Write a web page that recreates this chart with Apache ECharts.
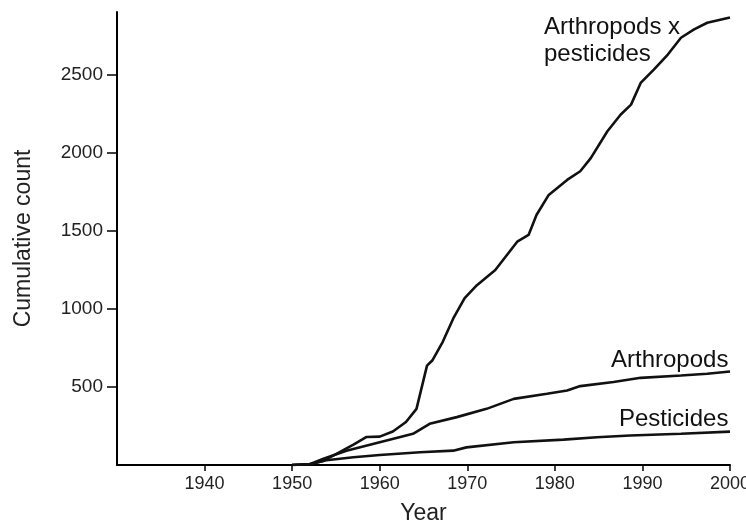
<!DOCTYPE html>
<html>
<head>
<meta charset="utf-8">
<script src="https://cdn.jsdelivr.net/npm/echarts@6/dist/echarts.min.js"></script>
<style>
  html, body { margin: 0; padding: 0; background: #fff; }
  #chart { width: 746px; height: 524px; }
</style>
</head>
<body>
<div id="chart"></div>
<script>
// Arthropods x pesticides (cumulative count)
var comboYears  = [1950, 1952, 1953.5, 1955, 1957, 1958.5, 1960, 1961.5, 1963, 1964.2, 1965.4, 1966, 1967.2, 1968.4, 1969.7, 1971.1, 1973.2, 1975.7, 1977, 1977.9, 1979.3, 1981.4, 1982.9, 1984.1, 1986, 1987.5, 1988.7, 1989.8, 1991.3, 1992.9, 1994.4, 1995.9, 1997.4, 2000];
var comboCounts = [0, 5, 25, 70, 130, 180, 182, 215, 276, 360, 637, 670, 790, 940, 1070, 1153, 1250, 1432, 1475, 1603, 1732, 1828, 1884, 1968, 2140, 2246, 2311, 2450, 2536, 2632, 2740, 2793, 2836, 2870];

// Arthropods
var arthYears  = [1950, 1952, 1953.5, 1956.2, 1960, 1963.8, 1965.7, 1968.8, 1972.2, 1975.3, 1979.1, 1981.4, 1982.9, 1986.7, 1989.8, 1994.4, 1997.4, 2000];
var arthCounts = [0, 5, 38, 92, 146, 200, 264, 307, 360, 424, 457, 478, 506, 532, 559, 574, 585, 600];

// Pesticides
var pestYears  = [1950, 1952, 1953.9, 1957, 1960, 1964.6, 1968.4, 1969.9, 1975.3, 1981, 1984.8, 1988.6, 1994.4, 2000];
var pestCounts = [0, 5, 30, 50, 64, 82, 92, 113, 146, 163, 178, 189, 200, 214];

var xTicks = [1940, 1950, 1960, 1970, 1980, 1990, 2000];
var yTicks = [500, 1000, 1500, 2000, 2500];

function pairs(xs, ys) {
  return xs.map(function (x, i) { return [x, ys[i]]; });
}

var chart = echarts.init(document.getElementById('chart'));

var font = 'Liberation Sans, Arial, sans-serif';
var lineBase = {
  type: 'line',
  smooth: false,
  symbol: 'none',
  lineStyle: { color: '#111', width: 2.6 }
};

chart.setOption({
  animation: false,
  backgroundColor: '#fff',
  textStyle: { fontFamily: font },
  grid: { left: 117, right: 16, top: 12, bottom: 59, containLabel: false, outerBoundsMode: 'none' },
  xAxis: {
    type: 'value',
    min: 1930,
    max: 2000,
    interval: 10,
    name: 'Year',
    nameLocation: 'middle',
    nameGap: 37,
    nameTextStyle: { fontSize: 23, color: '#222' },
    axisLine: { lineStyle: { color: '#000', width: 2 } },
    axisTick: { length: 6, customValues: xTicks, lineStyle: { color: '#000', width: 1.5 } },
    axisLabel: {
      fontSize: 18,
      color: '#222',
      margin: 10,
      customValues: xTicks,
      formatter: function (v) { return String(v); }
    },
    splitLine: { show: false }
  },
  yAxis: {
    type: 'value',
    min: 0,
    max: 2905,
    interval: 500,
    name: 'Cumulative count',
    nameLocation: 'middle',
    nameGap: 82,
    nameTextStyle: { fontSize: 23, color: '#222' },
    axisLine: { show: true, lineStyle: { color: '#000', width: 2 } },
    axisTick: { length: 10, customValues: yTicks, lineStyle: { color: '#000', width: 1.5 } },
    axisLabel: {
      fontSize: 19,
      color: '#222',
      margin: 14,
      customValues: yTicks,
      formatter: function (v) { return String(v); }
    },
    splitLine: { show: false }
  },
  series: [
    Object.assign({}, lineBase, { name: 'Arthropods x pesticides', data: pairs(comboYears, comboCounts) }),
    Object.assign({}, lineBase, { name: 'Arthropods', data: pairs(arthYears, arthCounts) }),
    Object.assign({}, lineBase, { name: 'Pesticides', data: pairs(pestYears, pestCounts) })
  ],
  graphic: [
    { type: 'text', left: 544, top: 14, style: { text: 'Arthropods x\npesticides', font: '24px ' + font, fill: '#111', lineHeight: 27 } },
    { type: 'text', left: 611, top: 348, style: { text: 'Arthropods', font: '24px ' + font, fill: '#111' } },
    { type: 'text', left: 619, top: 407, style: { text: 'Pesticides', font: '24px ' + font, fill: '#111' } }
  ]
});
</script>
</body>
</html>
